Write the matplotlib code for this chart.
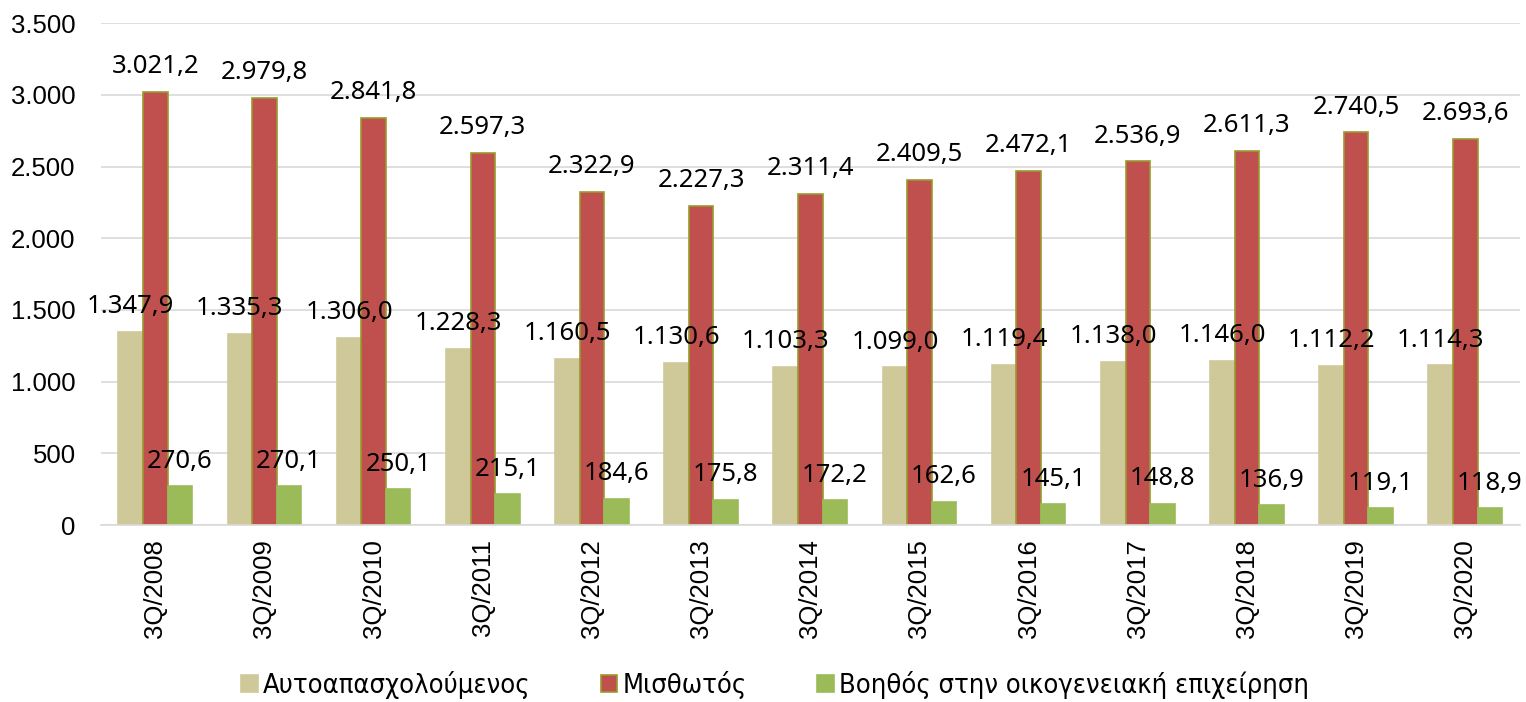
import numpy as np
import matplotlib.pyplot as plt

etiquettes = ["3Q/2008", "3Q/2009", "3Q/2010", "3Q/2011", "3Q/2012", "3Q/2013", "3Q/2014",
              "3Q/2015", "3Q/2016", "3Q/2017", "3Q/2018", "3Q/2019", "3Q/2020"]
autoapasch = [1347.9, 1335.3, 1306.0, 1228.3, 1160.5, 1130.6, 1103.3, 1099.0, 1119.4, 1138.0, 1146.0, 1112.2, 1114.3]
misthotos = [3021.2, 2979.8, 2841.8, 2597.3, 2322.9, 2227.3, 2311.4, 2409.5, 2472.1, 2536.9, 2611.3, 2740.5, 2693.6]
voithos = [270.6, 270.1, 250.1, 215.1, 184.6, 175.8, 172.2, 162.6, 145.1, 148.8, 136.9, 119.1, 118.9]

noms = ["Αυτοαπασχολούμενος", "Μισθωτός", "Βοηθός στην οικογενειακή επιχείρηση"]
couleurs = ["#CFC99A", "#C0504D", "#9BBB59"]
bords = ["#CFC99A", "#9A9A2E", "#9BBB59"]


def fmt_gr(v, dec=1):
    s = f"{v:,.{dec}f}"
    return s.replace(",", "X").replace(".", ",").replace("X", ".")


fig = plt.figure(figsize=(15.26, 7.02), dpi=100)
ax = fig.add_axes([0.066, 0.252, 0.930, 0.715])

x = np.arange(len(etiquettes))
w = 0.225
series = [autoapasch, misthotos, voithos]
for i, (vals, nom) in enumerate(zip(series, noms)):
    pos = x + (i - 1) * w
    ax.bar(pos, vals, width=w, color=couleurs[i], edgecolor=bords[i], linewidth=1.2, label=nom, zorder=2)
    for px, v in zip(pos, vals):
        ax.annotate(fmt_gr(v), (px, v), xytext=(0, 9), textcoords="offset points",
                    ha="center", va="bottom", fontsize=18.5, family="Noto Sans", zorder=3)

ax.set_xlim(-0.5, len(etiquettes) - 0.5)
ax.set_ylim(0, 3500)
ax.set_yticks(range(0, 3501, 500))
ax.set_yticklabels([fmt_gr(t, 0) for t in range(0, 3501, 500)], fontsize=18.5, family="Liberation Sans")
ax.set_xticks(x)
ax.set_xticklabels(etiquettes, rotation=90, fontsize=18.5, family="Liberation Sans")
ax.grid(axis="y", color="#D9D9D9", linewidth=1.2, zorder=0)
ax.tick_params(length=0, pad=10)
ax.tick_params(axis="y", pad=18)
for s in ["top", "right", "left"]:
    ax.spines[s].set_visible(False)
ax.spines["bottom"].set_color("#D9D9D9")
ax.spines["bottom"].set_linewidth(1.2)

fig.legend(loc="lower center", bbox_to_anchor=(0.508, -0.03), ncol=3, frameon=False,
           prop={"family": ["DejaVu Sans"], "stretch": "condensed", "size": 19.5},
           handlelength=0.6, handleheight=0.6, columnspacing=2.6, handletextpad=0.2)

fig.savefig("out.png", dpi=100)
